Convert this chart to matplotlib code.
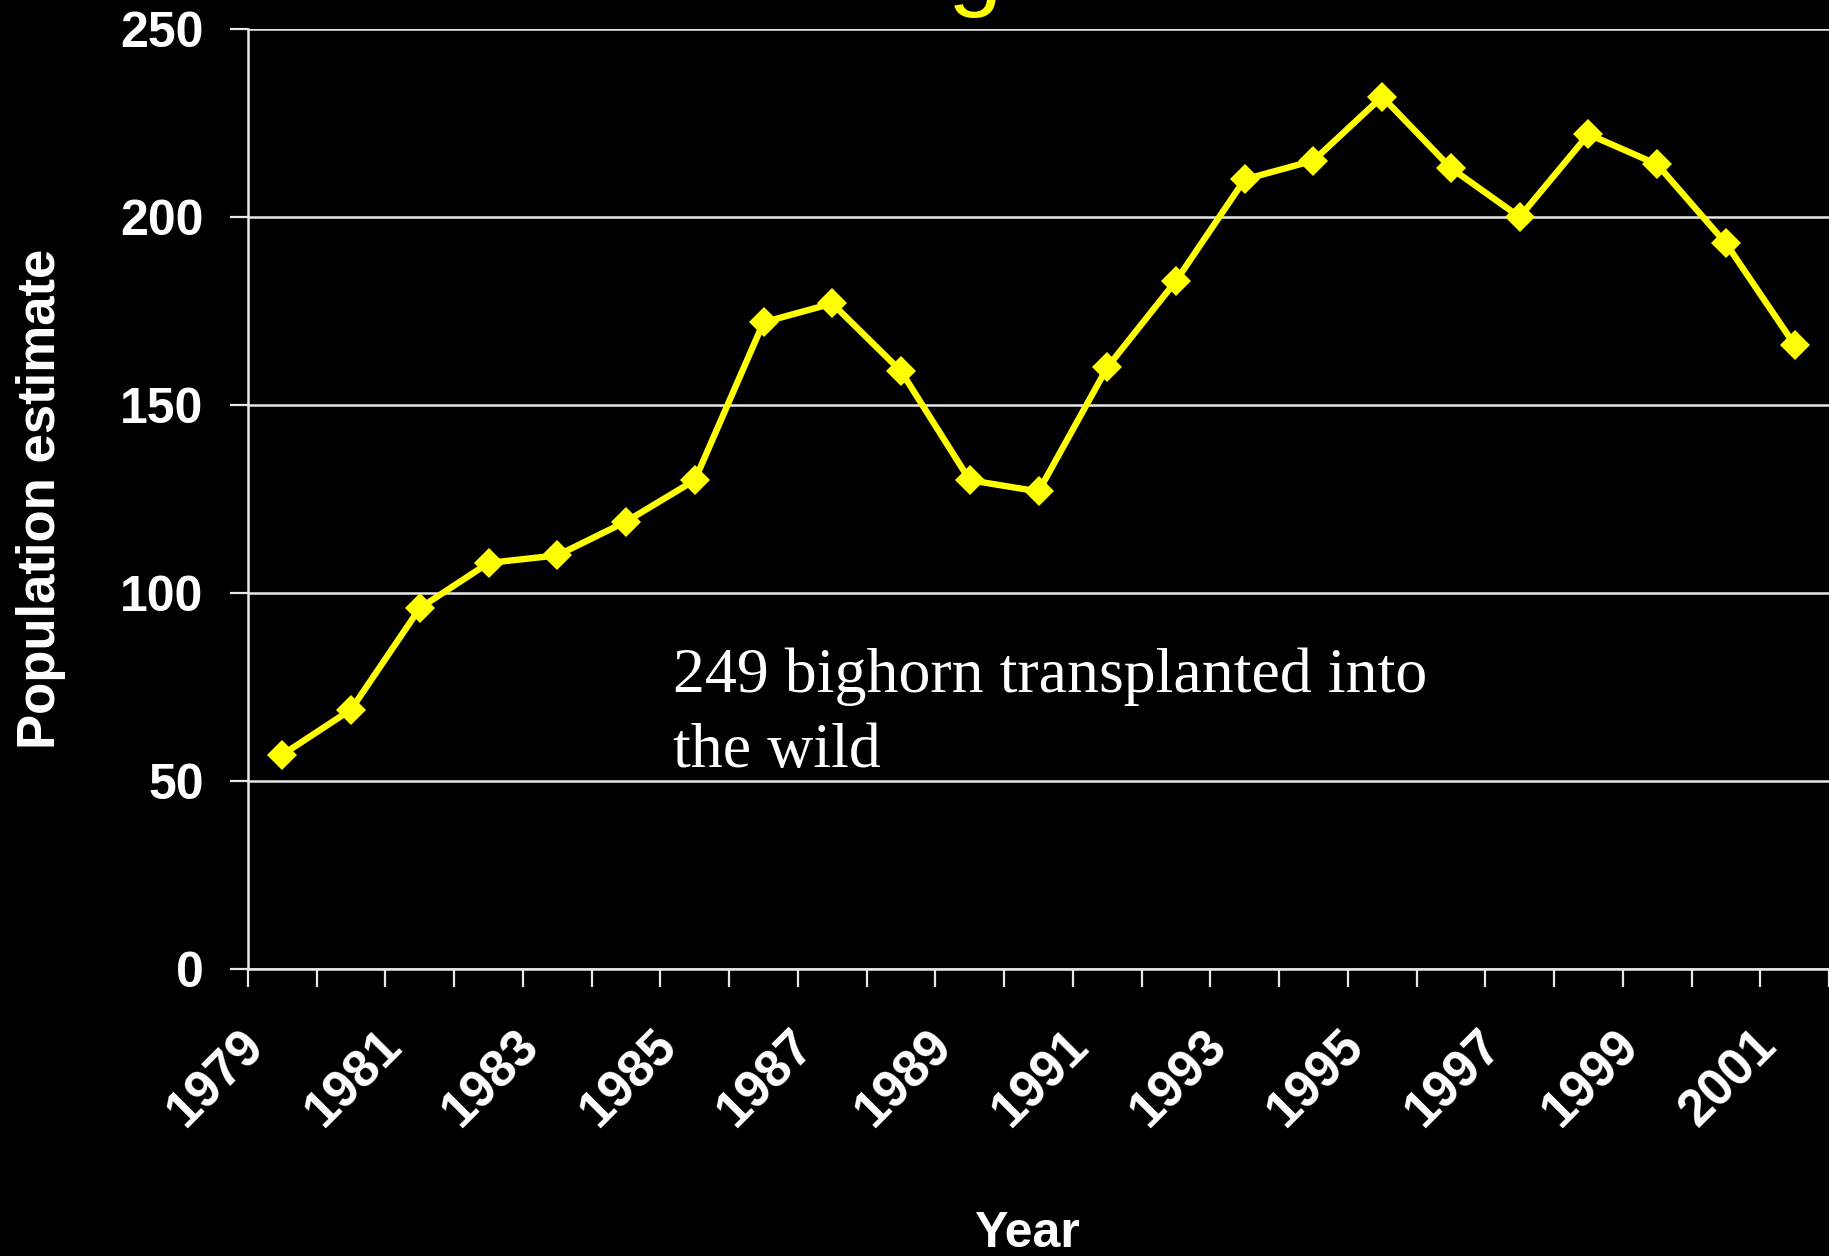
import matplotlib
matplotlib.use("Agg")
import matplotlib.pyplot as plt
import matplotlib.transforms as mtransforms

# ---- data ----
years = list(range(1979, 2002))
population = [57, 69, 96, 108, 110, 119, 130, 172, 177, 159, 130, 127,
              160, 183, 210, 215, 232, 213, 200, 222, 214, 193, 166]
y_ticks = [0, 50, 100, 150, 200, 250]
annotation = "249 bighorn transplanted into\nthe wild"
x_label = "Year"
y_label = "Population estimate"
title_fragment = "g"

YELLOW = "#FFFF00"
WHITE = "#FFFFFF"
GRID = "#E8E8E8"

fig = plt.figure(figsize=(18.29, 12.56), dpi=100, facecolor="black")
ax = fig.add_axes([248 / 1829, (1256 - 969) / 1256,
                   1 - 248 / 1829, (969 - 29) / 1256])
ax.set_facecolor("black")

idx = list(range(len(years)))
ax.plot(idx, population, color=YELLOW, lw=4.6, marker="D", ms=15,
        mec=YELLOW, mew=0, zorder=3, clip_on=False)

ax.set_xlim(-0.5, len(years) - 0.5)
ax.set_ylim(0, 250)

# y axis
ax.set_yticks(y_ticks)
ax.set_yticklabels([str(v) for v in y_ticks])
ax.yaxis.grid(True, color=GRID, lw=1.8)
ax.set_axisbelow(True)

# x axis: ticks at category boundaries, labels every other year
bounds = [i - 0.5 for i in range(len(years) + 1)]
labels = []
for i in range(len(years) + 1):
    if i < len(years) and i % 2 == 0:
        labels.append(str(years[i]))
    else:
        labels.append("")
ax.set_xticks(bounds)
ax.set_xticklabels(labels, rotation=45, ha="right", va="center",
                   rotation_mode="anchor")

for s in ["top", "right"]:
    ax.spines[s].set_visible(False)
for s in ["left", "bottom"]:
    ax.spines[s].set_color(GRID)
    ax.spines[s].set_linewidth(1.8)

font_bold = {"family": "Liberation Sans", "weight": "bold"}
ax.tick_params(axis="y", colors=GRID, length=13, width=1.6, pad=19,
               labelsize=36, labelcolor=WHITE)
ax.tick_params(axis="x", colors=GRID, length=13, width=1.6, pad=37,
               labelsize=37, labelcolor=WHITE)
shift = mtransforms.ScaledTranslation(0.09, 0, fig.dpi_scale_trans)
for lab in ax.get_xticklabels():
    lab.set_transform(lab.get_transform() + shift)
for lab in ax.get_xticklabels() + ax.get_yticklabels():
    lab.set_fontfamily("Liberation Sans")
    lab.set_fontweight("bold")

ax.set_ylabel(y_label, fontsize=38, color=WHITE, **font_bold)
ax.yaxis.set_label_coords((66 - 248) / 1581, 0.5)
ax.set_xlabel(x_label, fontsize=36, color=WHITE, **font_bold)
ax.xaxis.set_label_coords((1027 - 248) / 1581, (969 - 1211) / 940)

# multi-line text: baseline alignment refers to the last line here
ax.text((673 - 248) / 1581, (969 - 767) / 940, annotation,
        transform=ax.transAxes, fontsize=46, color=WHITE,
        family="Liberation Serif", va="baseline", ha="left",
        linespacing=1.39)

fig.text(975 / 1829, 1 + 2 / 1256, title_fragment, color=YELLOW,
         fontsize=70, family="Liberation Sans", ha="center",
         va="baseline")

fig.savefig("out.png", dpi=100, facecolor="black")
